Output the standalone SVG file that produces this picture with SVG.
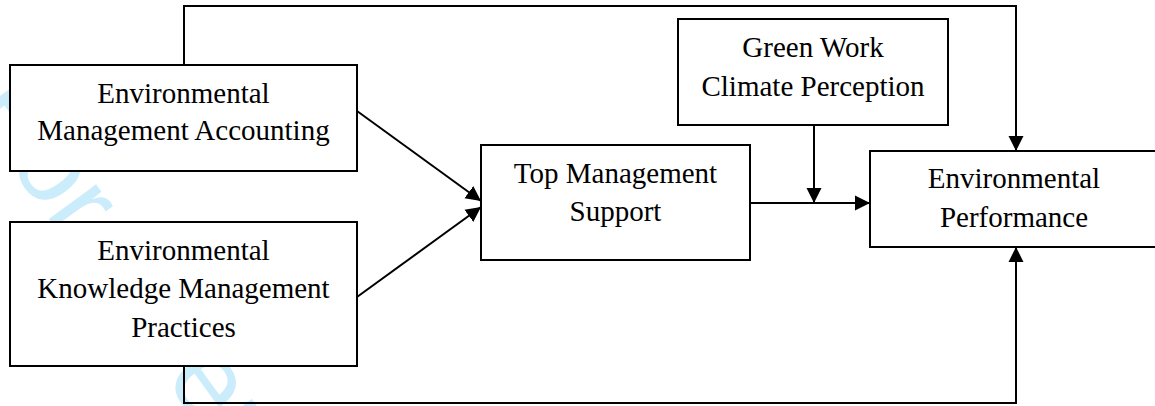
<svg xmlns="http://www.w3.org/2000/svg" width="1155" height="406" viewBox="0 0 1155 406">
<style>
.box{fill:#fff;stroke:#000;stroke-width:2}
.lbl{font-family:"Liberation Serif","Times New Roman",serif;font-size:29px;fill:#000;text-anchor:middle}
.con{fill:none;stroke:#000;stroke-width:2}
.wm{font-family:"Liberation Sans",Arial,sans-serif;font-size:111px;fill:#cbedfb}
</style>
<defs>
<marker id="ah" markerUnits="userSpaceOnUse" markerWidth="16" markerHeight="16" viewBox="0 0 16 16" refX="15" refY="8" orient="auto">
<path d="M0,0.5 L15,8 L0,15.5 Z" fill="#000"/>
</marker>
</defs>
<rect width="1155" height="406" fill="#fff"/>
<text class="wm" transform="translate(-32,108) rotate(54)">For Peer Review</text>
<g id="connectors">
<path class="con" d="M184,65 V6 H1016 V151" marker-end="url(#ah)"/>
<path class="con" d="M184,366 V403 H1016 V247" marker-end="url(#ah)"/>
<path class="con" d="M750,203 H870" marker-end="url(#ah)"/>
<path class="con" d="M814,125 V203" marker-end="url(#ah)"/>
<path class="con" d="M357,111 L481,201" marker-end="url(#ah)"/>
<path class="con" d="M357,297 L481,207" marker-end="url(#ah)"/>
</g>
<g id="ema">
<rect class="box" x="10" y="65" width="347" height="106"/>
<text class="lbl" x="183.5" y="103">Environmental</text>
<text class="lbl" x="183.5" y="140">Management Accounting</text>
</g>
<g id="ekmp">
<rect class="box" x="10" y="222" width="347" height="144"/>
<text class="lbl" x="183.5" y="260">Environmental</text>
<text class="lbl" x="183.5" y="298">Knowledge Management</text>
<text class="lbl" x="183.5" y="337">Practices</text>
</g>
<g id="tms">
<rect class="box" x="481" y="145" width="269" height="115"/>
<text class="lbl" x="615.5" y="183">Top Management</text>
<text class="lbl" x="615.5" y="221">Support</text>
</g>
<g id="gwcp">
<rect class="box" x="678" y="19" width="270" height="106"/>
<text class="lbl" x="813" y="57">Green Work</text>
<text class="lbl" x="813" y="96">Climate Perception</text>
</g>
<g id="ep">
<rect class="box" x="870" y="151" width="295" height="96"/>
<text class="lbl" x="1014" y="188">Environmental</text>
<text class="lbl" x="1014" y="227">Performance</text>
</g>
</svg>
